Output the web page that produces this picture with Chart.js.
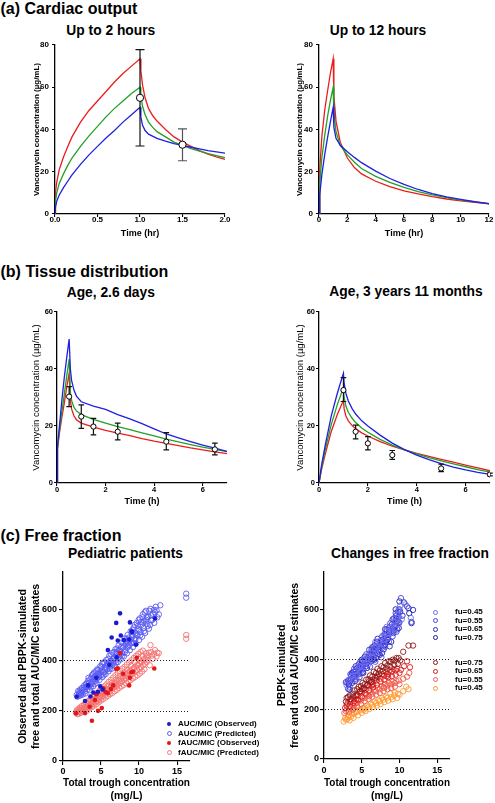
<!DOCTYPE html>
<html><head><meta charset="utf-8">
<script src="https://cdn.jsdelivr.net/npm/chart.js@4.4.1/dist/chart.umd.min.js"></script>
<style>
body{margin:0;background:#fff;width:495px;height:803px;position:relative;overflow:hidden;font-family:"Liberation Sans",Arial,sans-serif;}
canvas{position:absolute;}
.t{position:absolute;font-weight:bold;white-space:nowrap;color:#000;line-height:1;}
.c{transform:translateX(-50%);}
.lg{position:absolute;font-weight:bold;font-size:8px;white-space:nowrap;line-height:8px;color:#000;}
.mk{position:absolute;border-radius:50%;box-sizing:border-box;}
</style></head><body>
<div class="t" style="left:0.5px;top:0.5px;font-size:16px">(a) Cardiac output</div>
<div class="t c" style="left:110.8px;top:24px;font-size:13.8px">Up to 2 hours</div>
<div class="t c" style="left:378px;top:23.8px;font-size:13.8px">Up to 12 hours</div>
<div class="t" style="left:0.5px;top:263.8px;font-size:16px">(b) Tissue distribution</div>
<div class="t c" style="left:110.8px;top:285.8px;font-size:13.8px">Age, 2.6 days</div>
<div class="t c" style="left:406px;top:285.3px;font-size:13.8px">Age, 3 years 11 months</div>
<div class="t" style="left:0.5px;top:528.2px;font-size:16px">(c) Free fraction</div>
<div class="t c" style="left:125.5px;top:547.3px;font-size:13.8px">Pediatric patients</div>
<div class="t c" style="left:410px;top:547.3px;font-size:13.8px">Changes in free fraction</div>

<canvas id="a1" width="235" height="203" style="left:0;top:38px"></canvas>
<canvas id="a2" width="230" height="203" style="left:265px;top:38px"></canvas>
<canvas id="b1" width="240" height="212" style="left:0;top:300px"></canvas>
<canvas id="b2" width="233" height="212" style="left:262px;top:300px"></canvas>
<canvas id="c1" width="200" height="243" style="left:0;top:560px"></canvas>
<canvas id="c2" width="200" height="243" style="left:262px;top:560px"></canvas>
<div id="legends"></div>

<script>
const FONT = '"Liberation Sans", Arial, sans-serif';
Chart.defaults.font.family = FONT;
Chart.defaults.color = '#000';

// ================= DATA =================
// (a) Cardiac output: simulated vancomycin concentration (time h, µg/mL)
const a1Red   = [[0,0],[0.005,10],[0.02,15],[0.05,21],[0.1,27],[0.15,32],[0.2,36.5],[0.3,43.5],[0.4,49],[0.5,53.5],[0.6,58],[0.7,62.5],[0.8,66.5],[0.9,70],[1.0,73.5],[1.01,68],[1.03,61],[1.06,55],[1.1,50],[1.15,46.5],[1.2,44],[1.3,40],[1.4,36.5],[1.5,34],[1.6,32],[1.7,30],[1.8,28.3],[1.9,27],[2.0,25.8]];
const a1Green = [[0,0],[0.005,6],[0.02,10],[0.05,14.5],[0.1,19],[0.15,23],[0.2,26.5],[0.3,32],[0.4,37],[0.5,41.5],[0.6,46],[0.7,50],[0.8,53.5],[0.9,57],[1.0,60],[1.01,56],[1.03,51],[1.06,47],[1.1,43.5],[1.15,41],[1.2,39],[1.3,36.5],[1.4,34],[1.5,32.5],[1.6,31],[1.7,29.8],[1.8,28.6],[1.9,27.6],[2.0,26.7]];
const a1Blue  = [[0,0],[0.005,3],[0.02,6],[0.05,9],[0.1,12.5],[0.15,15.5],[0.2,18.5],[0.3,23.5],[0.4,28],[0.5,32],[0.6,36],[0.7,39.5],[0.8,43.5],[0.9,47],[1.0,50.5],[1.01,46],[1.03,42],[1.06,39.5],[1.1,37.8],[1.2,35.8],[1.3,34.5],[1.4,33.3],[1.5,32.5],[1.6,31.6],[1.7,30.8],[1.8,30],[1.9,29.4],[2.0,28.8]];
const a1ObsT = [1.0, 1.5];
const a1ObsMean = [55, 32.8];
const a1ObsLow = [32.2, 25.2];
const a1ObsHigh = [77.8, 40.3];
const a1ErrColor = ['#111', '#555'];

const a2Red   = [[0,0],[0.05,21],[0.2,36.5],[0.4,49],[0.6,58],[0.8,66.5],[1.0,73.5],[1.05,56],[1.2,44],[1.5,34],[2.0,26.5],[2.5,22],[3.0,19],[4.0,15.5],[5.0,13],[6.0,11],[7.0,9.5],[8.0,8.2],[9.0,7.1],[10.0,6.2],[11.0,5.5],[12.0,4.8]];
const a2Green = [[0,0],[0.05,14.5],[0.2,26.5],[0.4,37],[0.6,46],[0.8,53.5],[1.0,60],[1.05,48],[1.2,39],[1.5,32.5],[2.0,28],[2.5,24.5],[3.0,21.5],[4.0,17.8],[5.0,15],[6.0,12.6],[7.0,10.6],[8.0,9],[9.0,7.7],[10.0,6.6],[11.0,5.7],[12.0,4.9]];
const a2Blue  = [[0,0],[0.05,9],[0.2,18.5],[0.4,28],[0.6,36],[0.8,43.5],[1.0,50.5],[1.05,41],[1.2,35.8],[1.5,32.5],[2.0,29.5],[2.5,26.8],[3.0,24.3],[4.0,20.3],[5.0,16.8],[6.0,14],[7.0,11.6],[8.0,9.7],[9.0,8.1],[10.0,6.9],[11.0,5.8],[12.0,4.9]];

// (b) Tissue distribution
const b1Blue  = [[0,0],[0.02,13],[0.1,20],[0.2,29],[0.3,37],[0.4,44],[0.5,50.5],[0.55,40],[0.6,36],[0.7,32.5],[0.8,30.5],[1.0,28.5],[1.5,27],[2.0,25.8],[2.5,24],[3.0,22.5],[3.5,20.8],[4.0,19],[4.5,17.2],[5.0,15.8],[5.5,14.5],[6.0,13.3],[6.5,12.2],[7.0,11.1]];
const b1Green = [[0,0],[0.02,12],[0.1,18.5],[0.2,25],[0.3,31],[0.4,37.5],[0.5,43.5],[0.55,32],[0.6,29],[0.7,26.5],[0.8,25.3],[1.0,24],[1.5,22.3],[2.0,21],[2.5,19.8],[3.0,18.7],[3.5,17.6],[4.0,16.5],[4.5,15.4],[5.0,14.4],[5.5,13.5],[6.0,12.6],[6.5,11.8],[7.0,11]];
const b1Red   = [[0,0],[0.02,12],[0.1,17.5],[0.2,23],[0.3,28],[0.4,33.5],[0.5,38.5],[0.55,29],[0.6,26],[0.7,23.5],[0.8,22.2],[1.0,21],[1.5,19.6],[2.0,18.5],[2.5,17.5],[3.0,16.6],[3.5,15.6],[4.0,14.7],[4.5,13.9],[5.0,13.1],[5.5,12.3],[6.0,11.6],[6.5,10.9],[7.0,10.3]];
const b1ObsT = [0.5, 1, 1.5, 2.5, 4.5, 6.5];
const b1ObsMean = [30.3, 23.3, 19.8, 18, 14.5, 11.8];
const b1ObsLow = [26.8, 19.2, 16.9, 15.1, 11.6, 9.9];
const b1ObsHigh = [33.8, 27.4, 22.7, 21, 17.7, 14];

const b2Blue  = [[0,0],[0.1,6],[0.25,13],[0.5,23.5],[0.75,31.5],[1.0,38.5],[1.03,35],[1.1,31.5],[1.2,28.8],[1.35,26.2],[1.5,24.2],[1.75,21.8],[2.0,20],[2.5,16.8],[3.0,14],[3.5,11.7],[4.0,9.8],[4.5,8.2],[5.0,6.8],[5.5,5.6],[6.0,4.6],[6.5,3.7],[7.0,3.0]];
const b2Green = [[0,0],[0.1,5.2],[0.25,11.5],[0.5,20.5],[0.75,27.5],[1.0,33.5],[1.03,30],[1.1,27],[1.2,24.8],[1.35,22.8],[1.5,21.2],[1.75,19.3],[2.0,17.8],[2.5,15.3],[3.0,13.3],[3.5,11.6],[4.0,10.2],[4.5,8.9],[5.0,7.8],[5.5,6.7],[6.0,5.7],[6.5,4.7],[7.0,3.8]];
const b2Red   = [[0,0],[0.1,4.5],[0.25,10],[0.5,18],[0.75,24],[1.0,29],[1.03,26],[1.1,23.5],[1.2,21.8],[1.35,20.2],[1.5,19],[1.75,17.6],[2.0,16.5],[2.5,14.5],[3.0,12.9],[3.5,11.6],[4.0,10.4],[4.5,9.3],[5.0,8.3],[5.5,7.3],[6.0,6.3],[6.5,5.3],[7.0,4.3]];
const b2ObsT = [1, 1.5, 2, 3, 5, 7];
const b2ObsMean = [32.6, 18, 13.9, 9.8, 5.1, 3.0];
const b2ObsLow = [28.6, 15.5, 11.6, 8.3, 4.0, 2.5];
const b2ObsHigh = [37, 20.3, 16.3, 11.4, 6.6, 3.5];

// (c) Free fraction — total trough (mg/L) vs AUC/MIC
const c1AucObs = [[1.8,255],[2.9,238],[3.3,300],[3.6,256],[4.0,272],[4.4,330],[4.6,275],[4.9,296],[5.2,284],[5.9,440],[6.1,382],[6.4,490],[7.0,548],[7.05,412],[7.2,478],[7.5,586],[7.6,498],[8.0,480],[8.7,482],[8.8,550],[9.0,515],[9.1,512],[9.6,462],[12.1,566]];
const c1FAucObs = [[1.7,189],[2.9,190],[3.5,215],[3.8,160],[4.2,242],[4.4,265],[4.6,199],[5.1,210],[5.3,288],[5.6,274],[5.9,270],[6.3,286],[6.6,300],[7.0,365],[7.2,368],[7.5,428],[7.9,346],[8.7,300],[8.8,330],[9.0,352],[9.2,354],[9.7,410],[12.0,367]];
const c1AucPred = [[1.8,262],[1.9,255],[2.0,278],[2.1,266],[2.2,259],[2.3,284],[2.4,272],[2.5,290],[2.6,264],[2.7,281],[2.8,300],[2.9,276],[3.0,292],[3.1,309],[3.2,284],[3.3,318],[3.4,297],[3.5,281],[3.6,326],[3.7,305],[3.8,340],[3.9,314],[4.0,297],[4.1,352],[4.2,323],[4.3,338],[4.4,310],[4.5,364],[4.6,331],[4.7,349],[4.8,322],[4.9,376],[5.0,341],[5.1,360],[5.2,333],[5.3,390],[5.4,352],[5.5,372],[5.6,345],[5.7,401],[5.8,364],[5.9,383],[6.0,356],[6.1,418],[6.2,376],[6.3,397],[6.4,366],[6.5,430],[6.6,389],[6.7,410],[6.8,378],[6.9,444],[7.0,402],[7.1,424],[7.2,392],[7.3,458],[7.4,414],[7.5,437],[7.6,403],[7.7,470],[7.8,428],[7.9,451],[8.0,415],[8.1,486],[8.2,440],[8.3,463],[8.4,427],[8.5,500],[8.6,455],[8.7,478],[8.8,440],[8.9,515],[9.0,468],[9.1,492],[9.2,452],[9.3,530],[9.4,482],[9.5,507],[9.6,466],[9.7,548],[9.8,497],[9.9,523],[10.0,480],[10.1,566],[10.2,512],[10.3,540],[10.4,493],[10.5,582],[10.6,528],[10.7,556],[10.8,508],[10.9,596],[11.0,545],[11.2,572],[11.3,525],[11.5,604],[11.6,558],[11.8,585],[12.0,548],[12.2,612],[12.4,570],[12.8,618],
  [2.45,268],[3.05,305],[3.55,300],[4.05,330],[4.55,345],[5.05,372],[5.55,360],[6.05,392],[6.55,405],[7.05,432],[7.55,420],[8.05,458],[8.55,470],[9.05,500],[9.55,485],[10.05,520],[10.55,550],[11.05,570],[11.45,540],[12.1,590],[7.35,440],[8.35,485],[9.25,510],[6.25,385],[5.25,352],[4.25,318],[3.25,296],[2.25,270],
  [2.15,275],[2.35,262],[2.55,282],[2.75,292],[2.95,268],[3.15,296],[3.35,330],[3.45,310],[3.65,292],[3.75,330],[3.95,345],[4.15,305],[4.35,356],[4.45,328],[4.65,362],[4.75,336],[4.95,352],[5.15,385],[5.35,340],[5.45,392],[5.65,368],[5.75,380],[5.95,406],[6.15,366],[6.35,422],[6.45,380],[6.65,398],[6.75,432],[6.95,390],[7.15,446],[7.25,410],[7.45,426],[7.65,452],[7.75,415],[7.95,470],[8.15,432],[8.25,474],[8.45,450],[8.65,490],[8.75,460],[8.95,482],[9.15,520],[9.35,468],[9.45,540],[9.65,500],[9.85,536],[9.95,560],[10.15,498],[10.25,552],[10.45,570],[10.65,515],[10.75,590],[10.95,560],[11.15,535],[11.35,596],[11.55,578],[11.75,560],[11.95,600],[12.3,598],[12.6,582],
  [16.2,648],[16.2,664]];
const c1FAucPred = [[1.7,192],[1.8,201],[1.9,186],[2.0,206],[2.1,195],[2.2,212],[2.3,190],[2.4,204],[2.5,218],[2.6,198],[2.7,210],[2.8,225],[2.9,203],[3.0,232],[3.1,214],[3.2,200],[3.3,238],[3.4,221],[3.5,209],[3.6,246],[3.7,228],[3.8,214],[3.9,255],[4.0,236],[4.1,220],[4.2,262],[4.3,244],[4.4,226],[4.5,270],[4.6,250],[4.7,233],[4.8,279],[4.9,258],[5.0,240],[5.1,288],[5.2,266],[5.3,246],[5.4,296],[5.5,273],[5.6,252],[5.7,304],[5.8,281],[5.9,258],[6.0,314],[6.1,289],[6.2,265],[6.3,322],[6.4,297],[6.5,270],[6.6,331],[6.7,304],[6.8,277],[6.9,340],[7.0,312],[7.1,283],[7.2,349],[7.3,320],[7.4,290],[7.5,357],[7.6,327],[7.7,296],[7.8,366],[7.9,335],[8.0,302],[8.1,374],[8.2,343],[8.3,309],[8.4,383],[8.5,350],[8.6,315],[8.7,392],[8.8,358],[8.9,321],[9.0,400],[9.1,365],[9.2,328],[9.3,409],[9.4,372],[9.5,334],[9.6,417],[9.7,380],[9.8,340],[9.9,425],[10.0,388],[10.1,347],[10.2,432],[10.3,396],[10.4,355],[10.5,438],[10.6,404],[10.7,364],[10.9,428],[11.0,392],[11.2,420],[11.4,380],[11.6,432],[11.8,405],[12.0,425],[12.3,415],[12.6,428],[11.5,460],
  [2.35,200],[2.85,214],[3.35,226],[3.85,234],[4.35,248],[4.85,256],[5.35,270],[5.85,284],[6.35,293],[6.85,310],[7.35,318],[7.85,330],[8.35,345],[8.85,355],[9.35,368],[9.85,380],[10.35,392],[10.85,405],
  [1.85,195],[2.05,188],[2.15,204],[2.45,210],[2.55,196],[2.75,204],[2.95,220],[3.05,208],[3.25,214],[3.45,234],[3.55,218],[3.75,222],[3.95,244],[4.05,228],[4.25,234],[4.45,258],[4.55,238],[4.75,246],[4.95,270],[5.05,252],[5.25,258],[5.45,282],[5.55,262],[5.75,270],[5.95,298],[6.05,272],[6.25,280],[6.45,310],[6.55,288],[6.75,294],[6.95,322],[7.05,296],[7.25,305],[7.45,336],[7.55,310],[7.75,316],[7.95,350],[8.05,322],[8.25,328],[8.45,362],[8.55,336],[8.75,340],[8.95,378],[9.05,345],[9.25,350],[9.45,392],[9.55,356],[9.75,362],[9.95,405],[10.05,366],[10.25,372],[10.45,418],[10.55,380],[10.75,386],[10.95,415],[11.1,400],[11.3,430],[11.7,418],[12.1,440],[12.4,430],
  [16.2,485],[16.2,500]];
const refLevels = [200, 400];

const c2Blue45 = [[3.0,296],[3.3,318],[3.6,332],[3.9,315],[4.1,352],[4.4,338],[4.7,372],[4.9,351],[5.2,396],[5.4,368],[5.7,402],[5.9,380],[6.2,428],[6.4,405],[6.7,446],[6.9,422],[7.2,470],[7.4,441],[7.7,488],[7.9,462],[8.2,512],[8.4,486],[8.7,530],[8.9,505],[9.2,552],[9.4,522],[9.7,578],[9.9,540],[10.1,615],[10.3,560],[10.8,620],[11.5,566],
  [3.5,322],[4.2,335],[4.5,362],[5.0,370],[5.6,388],[6.0,410],[6.5,425],[7.0,452],[7.5,462],[8.0,478],[8.5,505],[9.0,520],[9.5,548],[9.8,565],[5.3,402],[6.8,470],[8.3,530],[9.9,600]];
const c2Blue55 = [[3.1,305],[3.4,290],[3.5,340],[3.8,328],[4.0,362],[4.3,320],[4.6,355],[4.8,390],[5.1,360],[5.3,380],[5.6,420],[5.8,392],[6.1,370],[6.3,440],[6.6,410],[6.8,390],[7.1,455],[7.3,430],[7.6,408],[7.8,478],[8.1,450],[8.3,500],[8.6,470],[8.8,545],[9.1,492],[9.3,565],[9.6,510],[9.8,590],[10.0,548],[10.2,645],[11.0,612],[11.6,550],
  [3.3,315],[3.9,342],[4.4,345],[4.9,372],[5.4,395],[5.9,418],[6.4,412],[6.9,448],[7.4,450],[7.9,458],[8.4,485],[8.9,510],[9.4,530],[9.9,570],[4.1,336],[6.0,400],[7.7,492],[9.5,585]];
const c2Blue65 = [[2.9,308],[3.2,282],[3.5,312],[3.7,345],[4.0,330],[4.2,372],[4.5,350],[4.7,328],[5.0,372],[5.2,345],[5.5,395],[5.7,365],[6.0,438],[6.2,392],[6.5,420],[6.7,398],[7.0,470],[7.2,420],[7.5,455],[7.7,425],[8.0,500],[8.2,468],[8.5,490],[8.7,452],[9.0,540],[9.2,505],[9.5,550],[9.7,520],[10.0,600],[10.4,575],[11.2,605],[11.8,598],
  [3.6,335],[4.1,350],[4.6,380],[5.1,390],[5.6,372],[6.1,415],[6.6,440],[7.1,445],[7.6,478],[8.1,472],[8.6,518],[9.1,522],[9.6,575],[9.9,548],[4.8,360],[6.4,430],[8.3,520],[10.1,590]];
const c2Blue75 = [[3.3,300],[3.4,278],[3.6,322],[3.9,350],[4.1,312],[4.4,365],[4.6,340],[4.9,378],[5.1,348],[5.4,410],[5.6,382],[5.9,410],[6.1,398],[6.4,448],[6.6,432],[6.9,405],[7.1,482],[7.4,418],[7.6,462],[7.9,440],[8.1,520],[8.4,478],[8.6,508],[8.9,470],[9.1,560],[9.4,530],[9.6,562],[9.9,525],[10.0,632],[10.6,628],[11.3,585],[11.6,545],
  [3.2,315],[3.7,305],[4.2,340],[4.7,355],[5.2,375],[5.7,398],[6.2,420],[6.7,455],[7.2,440],[7.7,470],[8.2,495],[8.7,530],[9.2,515],[9.7,552],[5.0,398],[6.5,400],[8.0,455],[9.5,600]];
const c2Red75 = [[2.9,230],[3.2,248],[3.5,240],[3.8,262],[4.0,275],[4.3,256],[4.6,290],[4.8,272],[5.1,305],[5.3,284],[5.6,318],[5.8,298],[6.1,335],[6.3,310],[6.6,350],[6.8,325],[7.1,362],[7.3,340],[7.6,372],[7.8,352],[8.1,385],[8.3,362],[8.6,392],[8.8,370],[9.1,398],[9.3,378],[9.6,405],[9.8,382],[10.1,395],[10.5,430],[11.2,455],[11.8,455],
  [3.0,245],[3.4,255],[3.9,250],[4.4,280],[4.9,292],[5.4,300],[5.9,320],[6.4,330],[6.9,345],[7.4,355],[7.9,368],[8.4,375],[8.9,390],[9.4,395],[9.9,405],[5.0,280],[6.0,312],[7.0,330]];
const c2Red65 = [[2.8,205],[3.1,222],[3.4,212],[3.7,238],[3.9,225],[4.2,252],[4.5,238],[4.7,268],[5.0,250],[5.2,280],[5.5,262],[5.7,295],[6.0,275],[6.2,308],[6.5,288],[6.7,318],[7.0,298],[7.2,330],[7.5,310],[7.7,340],[8.0,318],[8.2,348],[8.5,328],[8.7,355],[9.0,332],[9.2,360],[9.5,338],[9.7,362],[10.0,345],[10.6,372],[11.0,392],[11.4,368],
  [3.0,215],[3.5,228],[4.0,232],[4.5,255],[5.0,268],[5.5,278],[6.0,292],[6.5,300],[7.0,315],[7.5,322],[8.0,335],[8.5,340],[9.0,350],[9.5,355],[10.2,358],[4.3,240],[6.3,295],[8.3,332]];
const c2Red55 = [[2.7,185],[3.0,198],[3.3,190],[3.6,210],[3.8,198],[4.1,222],[4.4,210],[4.6,235],[4.9,220],[5.1,245],[5.4,232],[5.6,256],[5.9,240],[6.1,266],[6.4,250],[6.6,275],[6.9,258],[7.1,285],[7.4,265],[7.6,292],[7.9,272],[8.1,300],[8.4,280],[8.6,305],[8.9,285],[9.1,310],[9.4,290],[9.6,312],[10.0,300],[10.5,322],[11.0,330],[11.3,345],
  [2.9,192],[3.4,202],[3.9,212],[4.4,225],[4.9,235],[5.4,245],[5.9,255],[6.4,262],[6.9,272],[7.4,280],[7.9,288],[8.4,295],[8.9,300],[9.4,305],[9.9,315],[4.0,205],[6.0,252],[8.0,285]];
const c2Orange45 = [[2.6,150],[2.9,158],[3.2,168],[3.4,155],[3.7,180],[3.9,165],[4.2,188],[4.5,175],[4.7,198],[5.0,185],[5.2,205],[5.5,192],[5.7,214],[6.0,200],[6.2,222],[6.5,208],[6.7,230],[7.0,214],[7.2,236],[7.5,220],[7.7,244],[8.0,228],[8.2,250],[8.5,234],[8.8,262],[9.1,240],[9.4,266],[9.7,245],[10.0,258],[10.5,272],[10.9,290],[11.2,280],
  [2.8,165],[3.1,160],[3.6,170],[4.0,182],[4.4,190],[4.9,195],[5.4,205],[5.9,210],[6.4,218],[6.9,225],[7.4,232],[7.9,238],[8.4,245],[8.9,248],[9.3,255],[9.8,262],[3.3,175],[5.3,198]];

// tick values / labels
const a1XTicks = [0, 0.5, 1, 1.5, 2], a1XLabels = ['0.0','0.5','1.0','1.5','2.0'];
const a2XTicks = [0, 2, 4, 6, 8, 10, 12];
const concYTicks = [0, 20, 40, 60, 80];
const bXTicks = [0, 2, 4, 6];
const bYTicks = [0, 20, 40, 60];
const cXTicks = [0, 5, 10, 15];
const cYTicks = [0, 200, 400, 600];
const c1LegendLabels = ['AUC/MIC (Observed)','AUC/MIC (Predicted)','fAUC/MIC (Observed)','fAUC/MIC (Predicted)'];
const c2BlueLabels = ['fu=0.45','fu=0.55','fu=0.65','fu=0.75'];
const c2RedLabels = ['fu=0.75','fu=0.65','fu=0.55','fu=0.45'];

// ================= STYLE =================
const RED = '#ec1c1c', GREEN = '#22a02a', BLUE = '#1f1fe0';
const C1_BLUE_OBS = '#1a1ad2', C1_BLUE_PRED = '#5a5cf0', C1_RED_OBS = '#e01818', C1_RED_PRED = '#f47474';
const C2_BLUES = ['#6e6cf0', '#4444e2', '#2626cc', '#1a1a9c'];
const C2_REDS = ['#8e1616', '#d91c1c', '#ef5a4a', '#ff9a30'];

const xy = pts => pts.map(([x, y]) => ({x, y}));
const curve = (pts, color) => ({data: xy(pts), showLine: true, borderColor: color, backgroundColor: color, borderWidth: 1.3, pointRadius: 0, tension: 0});
const openPts = (pts, color, r) => ({data: xy(pts), showLine: false, borderColor: color, backgroundColor: 'rgba(0,0,0,0)', pointRadius: r || 2.7, pointBorderWidth: 0.9, pointHoverRadius: 0});
const dotPts = (pts, color, r) => ({data: xy(pts), showLine: false, borderColor: color, backgroundColor: color, pointRadius: r || 2.3, pointBorderWidth: 0, pointHoverRadius: 0});
const obsPts = (t, m, lo, hi, r, cap, colors) => ({data: t.map((x, i) => ({x, y: m[i]})), showLine: false, borderColor: '#000', backgroundColor: '#fff', pointRadius: r, pointBorderWidth: 1, errLow: lo, errHigh: hi, capHalf: cap, errColor: colors});

const errorBarPlugin = {
  id: 'errorBars',
  beforeDatasetDraw(chart, args) {
    const ds = chart.data.datasets[args.index];
    if (!ds.errLow) return;
    const ctx = chart.ctx, xs = chart.scales.x, ys = chart.scales.y;
    ctx.save();
    ds.data.forEach((p, j) => {
      const px = xs.getPixelForValue(p.x);
      const lo = ys.getPixelForValue(ds.errLow[j]);
      const hi = ys.getPixelForValue(ds.errHigh[j]);
      const w = ds.capHalf;
      ctx.strokeStyle = ds.errColor ? ds.errColor[j] : '#111';
      ctx.lineWidth = 1.2;
      ctx.beginPath();
      ctx.moveTo(px, lo); ctx.lineTo(px, hi);
      ctx.moveTo(px - w, lo); ctx.lineTo(px + w, lo);
      ctx.moveTo(px - w, hi); ctx.lineTo(px + w, hi);
      ctx.stroke();
    });
    ctx.restore();
  }
};
const refLinePlugin = {
  id: 'refLines',
  afterDatasetsDraw(chart, args, opts) {
    const lv = opts && opts.levels;
    if (!lv || !lv.length) return;
    const ctx = chart.ctx, a = chart.chartArea, ys = chart.scales.y;
    ctx.save();
    ctx.setLineDash([1, 2]);
    ctx.strokeStyle = '#222';
    ctx.lineWidth = 1;
    lv.forEach(v => {
      const py = Math.round(ys.getPixelForValue(v)) + 0.5;
      ctx.beginPath(); ctx.moveTo(a.left + 1, py); ctx.lineTo(a.right, py); ctx.stroke();
    });
    ctx.restore();
  }
};

function axis(o) {
  const left = o.pos === 'left';
  return {
    type: 'linear', position: o.pos, min: o.min, max: o.max,
    afterBuildTicks: s => { s.ticks = o.ticks.map(v => ({value: v})); },
    afterFit: s => { if (left) s.width = o.size; else s.height = o.size; },
    ticks: {color: '#000', padding: o.tp, autoSkip: false, maxRotation: 0,
      font: {family: FONT, size: o.fs, weight: 'bold', lineHeight: 1},
      callback: (v, i) => o.labels ? o.labels[i] : String(v)},
    grid: {display: true, drawOnChartArea: false, drawTicks: true, tickLength: o.tl, color: '#000', lineWidth: 1.1},
    border: {display: true, color: '#000', width: 1.3},
    title: {display: true, text: o.title, color: '#000',
      font: {family: FONT, size: o.titleSize, weight: o.titleWeight || 'bold', lineHeight: o.titleLH || 1.2},
      padding: left ? {top: o.titlePad, bottom: 0} : {top: 0, bottom: o.titlePad}}
  };
}

function makeChart(id, datasets, pad, x, y, levels) {
  return new Chart(document.getElementById(id), {
    type: 'scatter',
    data: {datasets},
    options: {
      responsive: false, animation: false, devicePixelRatio: 1, events: [],
      layout: {padding: pad},
      plugins: {legend: {display: false}, tooltip: {enabled: false}, refLines: {levels: levels || []}},
      scales: {x, y}
    },
    plugins: [errorBarPlugin, refLinePlugin]
  });
}

const CONC = 'Vancomycin concentration (µg/mL)';

// (a) left
makeChart('a1', [
  obsPts(a1ObsT, a1ObsMean, a1ObsLow, a1ObsHigh, 3.6, 4.5, a1ErrColor),
  curve(a1Blue, BLUE), curve(a1Green, GREEN), curve(a1Red, RED)
], {top: 5, right: 10, left: 0, bottom: 0},
  axis({pos: 'bottom', min: 0, max: 2, ticks: a1XTicks, labels: a1XLabels, size: 27, fs: 8, tp: -1, tl: 3, title: 'Time (hr)', titleSize: 9, titlePad: 2.1}),
  axis({pos: 'left', min: 0, max: 80, ticks: concYTicks, size: 55, fs: 8, tp: 3, tl: 3, title: CONC, titleSize: 8, titlePad: 32.2}));

// (a) right
makeChart('a2', [
  curve(a2Blue, BLUE), curve(a2Green, GREEN), curve(a2Red, RED)
], {top: 5, right: 6, left: 0, bottom: 0},
  axis({pos: 'bottom', min: 0, max: 12, ticks: a2XTicks, size: 27, fs: 8, tp: -1, tl: 3, title: 'Time (hr)', titleSize: 9, titlePad: 2.1}),
  axis({pos: 'left', min: 0, max: 80, ticks: concYTicks, size: 54, fs: 8, tp: 3, tl: 3, title: CONC, titleSize: 8, titlePad: 30.2}));

// (b) left
makeChart('b1', [
  obsPts(b1ObsT, b1ObsMean, b1ObsLow, b1ObsHigh, 2.6, 2.8),
  curve(b1Blue, BLUE), curve(b1Green, GREEN), curve(b1Red, RED)
], {top: 12, right: 13, left: 0, bottom: 0},
  axis({pos: 'bottom', min: 0, max: 7, ticks: bXTicks, size: 29, fs: 7.5, tp: 0, tl: 3, title: 'Time (h)', titleSize: 9, titlePad: 4.9}),
  axis({pos: 'left', min: 0, max: 60, ticks: bYTicks, size: 57, fs: 7.5, tp: 1, tl: 3, title: CONC, titleSize: 9.5, titleWeight: 'normal', titlePad: 30.3}));

// (b) right
makeChart('b2', [
  obsPts(b2ObsT, b2ObsMean, b2ObsLow, b2ObsHigh, 2.6, 2.8),
  curve(b2Blue, BLUE), curve(b2Green, GREEN), curve(b2Red, RED)
], {top: 12, right: 4.5, left: 0, bottom: 0},
  axis({pos: 'bottom', min: 0, max: 7, ticks: bXTicks, size: 29, fs: 7.5, tp: 0, tl: 3, title: 'Time (h)', titleSize: 9, titlePad: 4.9}),
  axis({pos: 'left', min: 0, max: 60, ticks: bYTicks, size: 57, fs: 7.5, tp: 1, tl: 3, title: CONC, titleSize: 9.5, titleWeight: 'normal', titlePad: 32.3}));

// (c) left
makeChart('c1', [
  dotPts(c1AucObs, C1_BLUE_OBS), dotPts(c1FAucObs, C1_RED_OBS),
  openPts(c1AucPred, C1_BLUE_PRED), openPts(c1FAucPred, C1_RED_PRED)
], {top: 12, right: 10, left: 0, bottom: 0},
  axis({pos: 'bottom', min: 0, max: 16.7, ticks: cXTicks, size: 42, fs: 9, tp: 2.5, tl: 4, title: ['Total trough concentration', '(mg/L)'], titleSize: 10.5, titleLH: 1.238, titlePad: 0.5}),
  axis({pos: 'left', min: 0, max: 750, ticks: cYTicks, size: 63, fs: 9, tp: 2, tl: 4, title: ['Observed and PBPK-simulated', 'free and total AUC/MIC estimates'], titleSize: 10.5, titleLH: 1.25, titlePad: 16.4}),
  refLevels);

// (c) right
makeChart('c2', [
  openPts(c2Blue45, C2_BLUES[0]), openPts(c2Blue55, C2_BLUES[1]), openPts(c2Blue65, C2_BLUES[2]), openPts(c2Blue75, C2_BLUES[3]),
  openPts(c2Red75, C2_REDS[0]), openPts(c2Red65, C2_REDS[1]), openPts(c2Red55, C2_REDS[2]), openPts(c2Orange45, C2_REDS[3])
], {top: 12, right: 12, left: 0, bottom: 0},
  axis({pos: 'bottom', min: 0, max: 16.7, ticks: cXTicks, size: 44, fs: 9, tp: 3.5, tl: 4, title: ['Total trough concentration', '(mg/L)'], titleSize: 10.5, titleLH: 1.238, titlePad: 0.5}),
  axis({pos: 'left', min: 0, max: 750, ticks: cYTicks, size: 62, fs: 9, tp: 1, tl: 4, title: ['PBPK-simulated', 'free and total AUC/MIC estimates'], titleSize: 10.5, titleLH: 1.25, titlePad: 13.1}),
  refLevels);

// ================= HTML legends =================
const lgBox = document.getElementById('legends');
function legendRow(mx, tx, cy, label, color, filled) {
  const r = filled ? 2.2 : 2.5;
  const m = document.createElement('div');
  m.className = 'mk';
  m.style.cssText = `left:${mx - r}px;top:${cy - r}px;width:${2 * r}px;height:${2 * r}px;` +
    (filled ? `background:${color};` : `border:0.9px solid ${color};`);
  lgBox.appendChild(m);
  const t = document.createElement('div');
  t.className = 'lg';
  t.style.cssText = `left:${tx}px;top:${cy - 4}px;`;
  t.textContent = label;
  lgBox.appendChild(t);
}
const c1Rows = [724, 733.5, 743, 752.5];
const c1Colors = [C1_BLUE_OBS, C1_BLUE_PRED, C1_RED_OBS, C1_RED_PRED];
const c1Filled = [true, false, true, false];
c1LegendLabels.forEach((l, i) => legendRow(169, 178, c1Rows[i], l, c1Colors[i], c1Filled[i]));
const c2BlueRows = [612, 620.5, 629, 637.5];
const c2RedRows = [662.5, 671, 679.5, 688];
c2BlueLabels.forEach((l, i) => legendRow(435, 455, c2BlueRows[i], l, C2_BLUES[i], false));
c2RedLabels.forEach((l, i) => legendRow(435, 455, c2RedRows[i], l, C2_REDS[i], false));
</script>
</body></html>
